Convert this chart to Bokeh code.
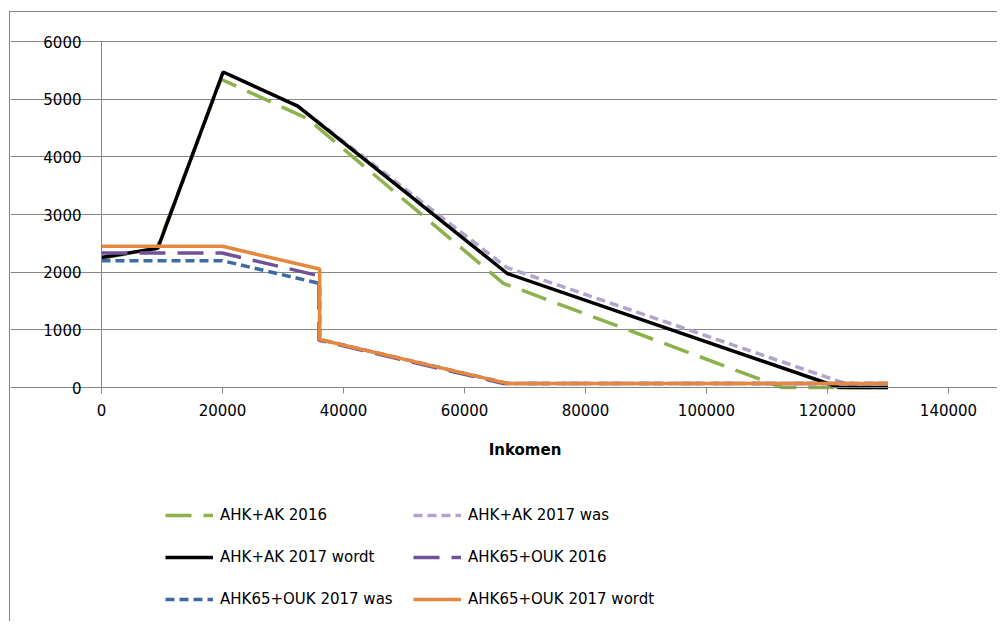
from bokeh.plotting import figure
from bokeh.models import Range1d, FixedTicker, Legend, LegendItem, BasicTickFormatter
from bokeh.embed import file_html
from bokeh.resources import INLINE

# ---- data ----
x_ak16 = [0, 9147, 19758, 34015, 66417, 112500, 130000]
y_ak16 = [2242, 2407, 5345, 4665, 1807, 0, 0]

x_ak17was = [0, 9309, 20108, 32444, 67000, 124900, 130000]
y_ak17was = [2254, 2417, 5471, 4880, 2080, 0, 0]

x_ak17 = [0, 9309, 20108, 32444, 67068, 121972, 130000]
y_ak17 = [2254, 2417, 5471, 4880, 1977, 0, 0]

x_ouk16 = [0, 19922, 35949, 35949, 66417, 130000]
y_ouk16 = [2332, 2332, 1937, 820, 70, 70]

x_ouk17was = [0, 19982, 36057, 36057, 67068, 130000]
y_ouk17was = [2199, 2199, 1804, 833, 71, 71]

x_ouk17 = [0, 19982, 36057, 36057, 67068, 130000]
y_ouk17 = [2449, 2449, 2054, 833, 71, 71]

names = ["AHK+AK 2016", "AHK+AK 2017 was", "AHK+AK 2017 wordt",
         "AHK65+OUK 2016", "AHK65+OUK 2017 was", "AHK65+OUK 2017 wordt"]
x_ticks = [0, 20000, 40000, 60000, 80000, 100000, 120000, 140000]
y_ticks = [0, 1000, 2000, 3000, 4000, 5000, 6000]
Y_MAX = 6000
X_MAX = 140000

FONT = "DejaVu Sans"
GRAY = "#868686"

# ---- layout (page pixels) ----
W, H = 988, 610
OX, OY = 10, 12            # canvas offset on the page (chart border just outside)
TOP, ZERO, LEFT, RIGHT = 41, 387, 101, 948
# the frame covers the whole canvas; axes are fixed at 0 and bounded
ux = X_MAX / (RIGHT - LEFT)
uy = Y_MAX / (ZERO - TOP)
x_low = -(LEFT - OX) * ux
x_high = X_MAX + (OX + W - RIGHT) * ux
y_high = Y_MAX + (TOP - OY) * uy
y_low = -(OY + H - ZERO) * uy

p = figure(width=W, height=H, output_backend="svg", toolbar_location=None,
           x_range=Range1d(x_low, x_high), y_range=Range1d(y_low, y_high),
           min_border_left=0, min_border_right=0,
           min_border_top=0, min_border_bottom=0)
p.styles = {"margin-left": "9px", "margin-top": "11px",
            "border-left": "1.5px solid #868686", "border-top": "1.5px solid #868686"}
p.outline_line_color = None
p.background_fill_color = "white"
p.border_fill_color = "white"

p.xgrid.visible = False
p.ygrid.grid_line_color = GRAY
p.ygrid.grid_line_width = 1
p.ygrid.ticker = FixedTicker(ticks=y_ticks)
p.ygrid.bounds = (0, X_MAX)

for ax in (p.xaxis[0], p.yaxis[0]):
    ax.axis_line_color = GRAY
    ax.axis_line_width = 1
    ax.major_tick_line_color = GRAY
    ax.major_tick_line_width = 1
    ax.major_tick_out = 6
    ax.major_tick_in = 0
    ax.minor_tick_line_color = None
    ax.major_label_text_font = FONT
    ax.major_label_text_font_size = "15px"
    ax.major_label_text_color = "#000000"

p.xaxis.ticker = FixedTicker(ticks=x_ticks)
p.yaxis.ticker = FixedTicker(ticks=y_ticks)
p.xaxis.bounds = (0, X_MAX)
p.yaxis.bounds = (0, Y_MAX)
p.xaxis.fixed_location = 0
p.yaxis.fixed_location = 0
p.xaxis.formatter = BasicTickFormatter(use_scientific=False)
p.yaxis.formatter = BasicTickFormatter(use_scientific=False)
p.xaxis.major_label_standoff = 10
p.yaxis.major_label_standoff = 14
p.xaxis.axis_label = "Inkomen"
p.xaxis.axis_label_text_font = FONT
p.xaxis.axis_label_text_font_style = "bold"
p.xaxis.axis_label_text_font_size = "15px"
p.xaxis.axis_label_text_color = "#000000"
p.xaxis.axis_label_standoff = 22

LW = 3.5
r1 = p.line(x_ak16, y_ak16, line_color="#8DB14B", line_width=LW, line_dash="26 12")
r2 = p.line(x_ak17was, y_ak17was, line_color="#B3A4CE", line_width=LW, line_dash="9 5")
r3 = p.line(x_ak17, y_ak17, line_color="#000000", line_width=LW)
r4 = p.line(x_ouk16, y_ouk16, line_color="#70529A", line_width=LW, line_dash="26 12")
r5 = p.line(x_ouk17was, y_ouk17was, line_color="#3D6AA3", line_width=LW, line_dash="9 5")
r6 = p.line(x_ouk17, y_ouk17, line_color="#E5873D", line_width=LW)

items = [LegendItem(label=n, renderers=[r]) for n, r in zip(names, [r1, r2, r3, r4, r5, r6])]
legend = Legend(items=items, location=(165 - OX, OY + H - 616),
                orientation="horizontal", ncols=2,
                padding=0, margin=0, spacing=8, glyph_width=48, glyph_height=34,
                label_height=34, label_width=185, label_standoff=7,
                label_text_font=FONT, label_text_font_size="15px",
                label_text_color="#000000", border_line_color=None,
                background_fill_alpha=0)
p.add_layout(legend, "center")

open("out.html", "w").write(file_html(p, INLINE))
